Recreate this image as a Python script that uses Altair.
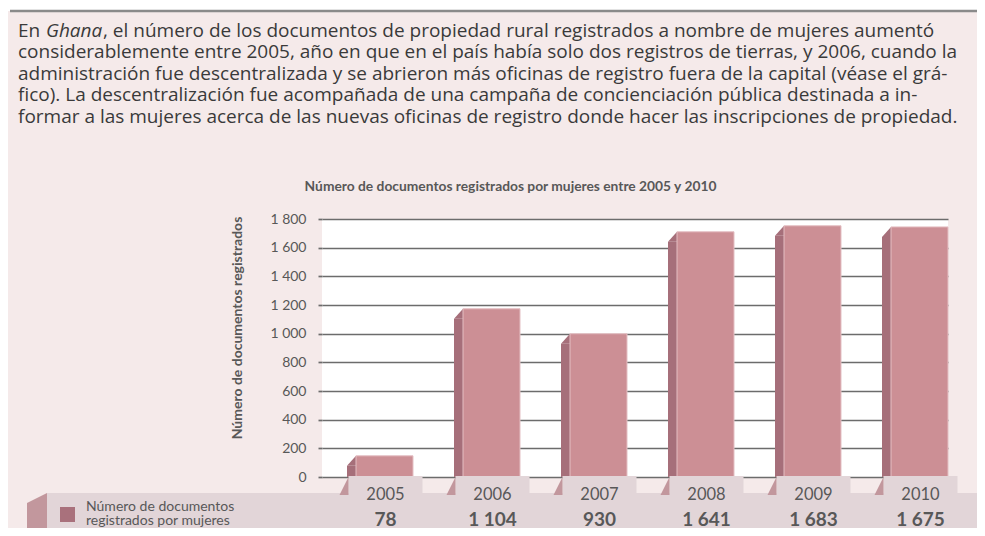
import altair as alt
import pandas as pd

# ---- data ----
years = ["2005", "2006", "2007", "2008", "2009", "2010"]
values = [78, 1104, 930, 1641, 1683, 1675]
y_ticks = [0, 200, 400, 600, 800, 1000, 1200, 1400, 1600, 1800]

title_text = "Número de documentos registrados por mujeres entre 2005 y 2010"
y_title = "Número de documentos registrados"
legend_lines = ["Número de documentos", "registrados por mujeres"]

para_first = ["En", "Ghana", ", el número de los documentos de propiedad rural registrados a nombre de mujeres aumentó"]
para_lines = [
    "considerablemente entre 2005, año en que en el país había solo dos registros de tierras, y 2006, cuando la",
    "administración fue descentralizada y se abrieron más oficinas de registro fuera de la capital (véase el grá-",
    "fico). La descentralización fue acompañada de una campaña de concienciación pública destinada a in-",
    "formar a las mujeres acerca de las nuevas oficinas de registro donde hacer las inscripciones de propiedad.",
]

df = pd.DataFrame({"year": years, "value": values})
one = pd.DataFrame({"a": [0]})

BG = "#f5eaea"
ROW = "#e2d5d8"
FRONT = "#cc8f95"
SIDE = "#a66f7a"
TABSIDE = "#c2979d"
TXT = "#585858"
PARA = "#3a3a3a"
FONT = "Lato"
PFONT = "Open Sans"
PSIZE = 19

xscale = alt.Scale(paddingInner=0.4673, paddingOuter=0.1589, align=1)
X = alt.X("year:N", scale=xscale, axis=None)
Y = alt.Y(
    "value:Q",
    scale=alt.Scale(domain=[0, 1800], nice=False),
    axis=alt.Axis(
        values=y_ticks,
        labelOverlap=False,
        title=y_title,
        titleFont=FONT,
        titleFontSize=14,
        titleFontWeight="bold",
        titleColor=TXT,
        titleX=-85,
        titleY=108.5,
        titleAngle=270,
        titleBaseline="middle",
        titleAlign="center",
        labelFont=FONT,
        labelFontSize=14,
        labelColor=TXT,
        labelPadding=12,
        labelExpr="replace(format(datum.value, ','), ',', ' ')",
        domain=False,
        ticks=True,
        tickSize=4,
        tickColor="#6c6c6c",
        tickWidth=1.7,
        grid=True,
        gridColor="#6c6c6c",
        gridWidth=1.7,
    ),
)

base = alt.Chart(df)

# 3D bars: side face, slanted top, front face (shifted by the depth)
side = base.mark_bar(width=9, xOffset=-33, color=SIDE).encode(x=X, y=Y, y2=alt.datum(0))
slant = base.mark_point(
    shape="M -0.45 0.5 L 0.45 -0.5 L 0.45 0.5 Z", size=400, filled=True,
    fill=SIDE, strokeWidth=0, opacity=1, xOffset=-33, yOffset=-5,
).encode(x=X, y=Y)
front = base.mark_bar(
    color=FRONT, stroke="#e4bfc3", strokeWidth=1, yOffset=-10, y2Offset=0
).encode(x=X, y=Y, y2=alt.datum(0))

# decoration + table beneath
top_white = alt.Chart(one).mark_rect(color="white").encode(
    x=alt.value(-330), x2=alt.value(700), y=alt.value(-225), y2=alt.value(-208)
)
top_line = alt.Chart(one).mark_rule(color="#8a8a8a", strokeWidth=2.5).encode(
    x=alt.value(-312), x2=alt.value(700), y=alt.value(-208)
)
row = alt.Chart(one).mark_rect(color=ROW).encode(
    x=alt.value(-275), x2=alt.value(657), y=alt.value(274), y2=alt.value(330)
)
row_side = alt.Chart(one).mark_rect(color=TABSIDE).encode(
    x=alt.value(-295), x2=alt.value(-275), y=alt.value(284), y2=alt.value(330)
)
row_side_top = alt.Chart(one).mark_point(
    shape="M -1 0.5 L 1 -0.5 L 1 0.5 Z", size=400, filled=True, fill=TABSIDE,
    strokeWidth=0, opacity=1,
).encode(x=alt.value(-285), y=alt.value(279))
legend_sq = alt.Chart(one).mark_rect(color="#a9717c").encode(
    x=alt.value(-262), x2=alt.value(-247), y=alt.value(288), y2=alt.value(303)
)
legend_txt = [
    alt.Chart(one).mark_text(
        text=t, font=FONT, fontSize=14, color=TXT, align="left", baseline="middle"
    ).encode(x=alt.value(-236), y=alt.value(yy))
    for t, yy in zip(legend_lines, [287.5, 301.5])
]

tabs = base.mark_bar(width=74, xOffset=1, color=ROW).encode(
    x=X, y=alt.value(257), y2=alt.value(276)
)
tab_sides = base.mark_point(
    shape="M -0.5 1 L 0.5 -1 L 0.5 1 Z", size=324, filled=True, fill=TABSIDE,
    strokeWidth=0, opacity=1, xOffset=-40.5,
).encode(x=X, y=alt.value(267))
year_txt = base.mark_text(
    font=FONT, fontSize=16.5, color=TXT, baseline="middle", xOffset=1
).encode(x=X, y=alt.value(275.5), text="year:N")
val_txt = base.transform_calculate(
    lab="replace(format(datum.value, ','), ',', ' ')"
).mark_text(
    font=FONT, fontSize=19, fontWeight="bold", color=TXT, baseline="middle", xOffset=1
).encode(x=X, y=alt.value(300.5), text="lab:N")

# titles and paragraph
title = alt.Chart(one).mark_text(
    text=title_text, font=FONT, fontSize=13.8, fontWeight="bold", color=TXT, baseline="middle"
).encode(x=alt.value(188.5), y=alt.value(-32))

p0 = alt.Chart(one).mark_text(
    text=para_first[0], font=PFONT, fontSize=PSIZE, color=PARA, align="left", baseline="alphabetic"
).encode(x=alt.value(-304), y=alt.value(36.5 - 219))
p1 = alt.Chart(one).mark_text(
    text=para_first[1], font=PFONT, fontSize=PSIZE, fontStyle="italic", color=PARA,
    align="left", baseline="alphabetic"
).encode(x=alt.value(-276), y=alt.value(36.5 - 219))
p2 = alt.Chart(one).mark_text(
    text=para_first[2], font=PFONT, fontSize=PSIZE, color=PARA, align="left", baseline="alphabetic"
).encode(x=alt.value(-219), y=alt.value(36.5 - 219))
plines = [
    alt.Chart(one).mark_text(
        text=t, font=PFONT, fontSize=PSIZE, color=PARA, align="left", baseline="alphabetic"
    ).encode(x=alt.value(-304), y=alt.value(b - 219))
    for t, b in zip(para_lines, [58, 79.5, 101, 122.5])
]

chart = alt.layer(
    top_white, top_line, p0, p1, p2, *plines, title,
    side, slant, front,
    row, row_side, row_side_top, tabs, tab_sides, legend_sq, *legend_txt,
    year_txt, val_txt,
).properties(
    width=626,
    height=258,
    background=BG,
    autosize=alt.AutoSizeParams(type="none"),
    padding={"left": 314, "top": 211, "right": 29, "bottom": 51},
).configure_view(fill="white", stroke=None)

chart.save("out.html", embed_options={"renderer": "svg", "actions": False})
